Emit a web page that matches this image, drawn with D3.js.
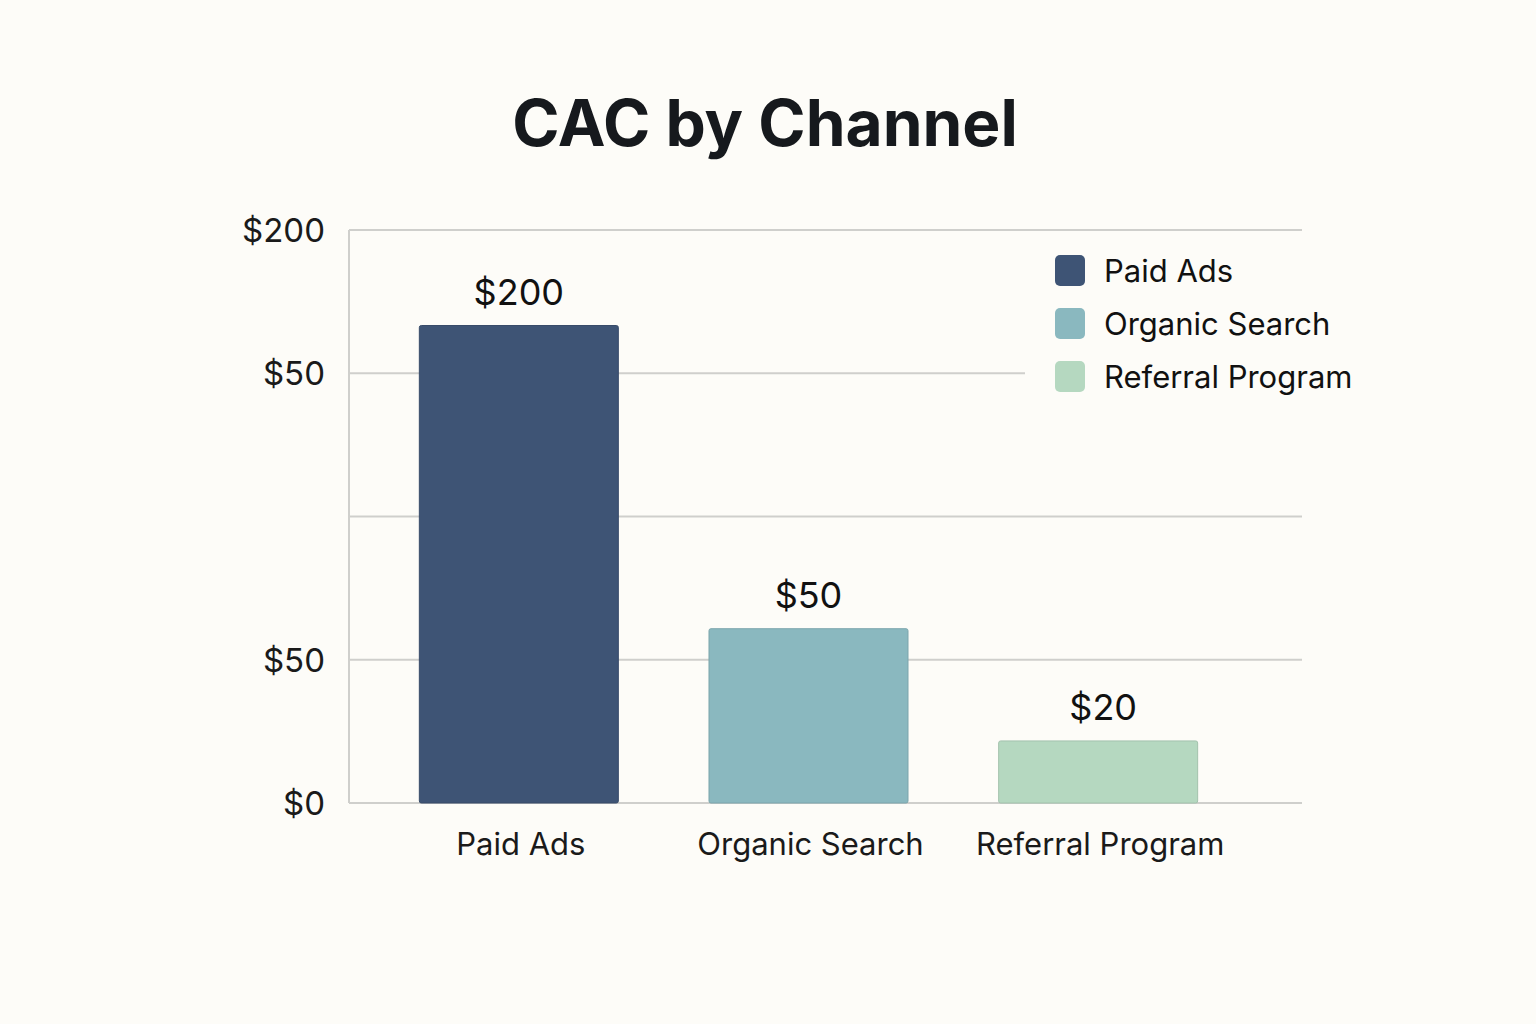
<!DOCTYPE html>
<html>
<head>
<meta charset="utf-8">
<script src="https://cdn.jsdelivr.net/npm/d3@7"></script>
<style>
  body { margin: 0; background: #fdfcf8; }
  text { font-family: Inter, "Noto Sans", sans-serif; }
</style>
</head>
<body>
<div id="chart"></div>
<script>
// categories and values
const channels = ["Paid Ads", "Organic Search", "Referral Program"];
const valueLabels = ["$200", "$50", "$20"];
// bar heights in axis units (axis 0..240, gridlines every 60)
const barHeights = [200, 73, 26];
const colors = ["#3e5475", "#8ab8bf", "#b5d8c0"];
const tickValues = [0, 60, 120, 180, 240];
const tickLabels = ["$0", "$50", "", "$50", "$200"];

let width = 1536, height = 1024;
let margin = { top: 230, right: 234, bottom: 221, left: 349 };

var svg = d3.select("#chart")
    .append("svg")
    .attr("width", width)
    .attr("height", height);

svg.append("rect")
    .attr("width", width)
    .attr("height", height)
    .attr("fill", "#fdfcf8");

svg.append("text")
    .attr("x", 765)
    .attr("y", 146)
    .attr("text-anchor", "middle")
    .style("font-size", "64px")
    .style("font-weight", 700)
    .style("fill", "#16191d")
    .text("CAC by Channel");

var y = d3.scaleLinear()
    .domain([0, 240])
    .range([height - margin.bottom, margin.top]);

var x = d3.scaleBand()
    .domain(channels)
    .range([374, 1243])
    .paddingInner(0.313)
    .paddingOuter(0.1565);

// gridlines
svg.append("g")
    .selectAll("line")
    .data(tickValues)
    .enter()
    .append("line")
    .attr("x1", margin.left)
    .attr("x2", width - margin.right)
    .attr("y1", d => y(d))
    .attr("y2", d => y(d))
    .style("stroke", "#cfcfcc")
    .style("stroke-width", 2);

// left axis line
svg.append("line")
    .attr("x1", margin.left)
    .attr("x2", margin.left)
    .attr("y1", y(240))
    .attr("y2", y(0))
    .style("stroke", "#cfcfcc")
    .style("stroke-width", 2);

// tick labels
svg.append("g")
    .selectAll("text")
    .data(tickValues)
    .enter()
    .append("text")
    .attr("x", 325)
    .attr("y", d => y(d))
    .attr("dy", "0.36em")
    .attr("text-anchor", "end")
    .style("font-size", "33px")
    .style("fill", "#1a1a1a")
    .text((d, i) => tickLabels[i]);

// bars
svg.append("g")
    .selectAll("rect")
    .data(channels)
    .enter()
    .append("rect")
    .attr("x", d => x(d))
    .attr("y", (d, i) => y(barHeights[i]))
    .attr("width", x.bandwidth())
    .attr("height", (d, i) => y(0) - y(barHeights[i]))
    .attr("rx", 2)
    .style("fill", (d, i) => colors[i])
    .style("stroke", (d, i) => d3.color(colors[i]).darker(0.3))
    .style("stroke-width", 1);

// value labels
svg.append("g")
    .selectAll("text")
    .data(channels)
    .enter()
    .append("text")
    .attr("x", (d, i) => x(d) + x.bandwidth() / 2 + (i == 2 ? 5 : 0))
    .attr("y", (d, i) => y(barHeights[i]) - 21)
    .attr("text-anchor", "middle")
    .style("font-size", "36px")
    .style("fill", "#111")
    .text((d, i) => valueLabels[i]);

// category labels
svg.append("g")
    .selectAll("text")
    .data(channels)
    .enter()
    .append("text")
    .attr("x", d => x(d) + x.bandwidth() / 2 + 2)
    .attr("y", 855)
    .attr("text-anchor", "middle")
    .style("font-size", "31px")
    .style("fill", "#1a1a1a")
    .text(d => d);

// legend
var legend = svg.append("g");

legend.append("rect")
    .attr("x", 1025)
    .attr("y", 245)
    .attr("width", 350)
    .attr("height", 160)
    .attr("fill", "#fdfcf8");

var item = legend.selectAll("g")
    .data(channels)
    .enter()
    .append("g")
    .attr("transform", (d, i) => "translate(1055," + (255 + i * 53) + ")");

item.append("rect")
    .attr("width", 30)
    .attr("height", 31)
    .attr("rx", 5)
    .style("fill", (d, i) => colors[i]);

item.append("text")
    .attr("x", 49)
    .attr("y", 16)
    .attr("dy", "0.36em")
    .style("font-size", "31px")
    .style("fill", "#111")
    .text(d => d);
</script>
</body>
</html>
